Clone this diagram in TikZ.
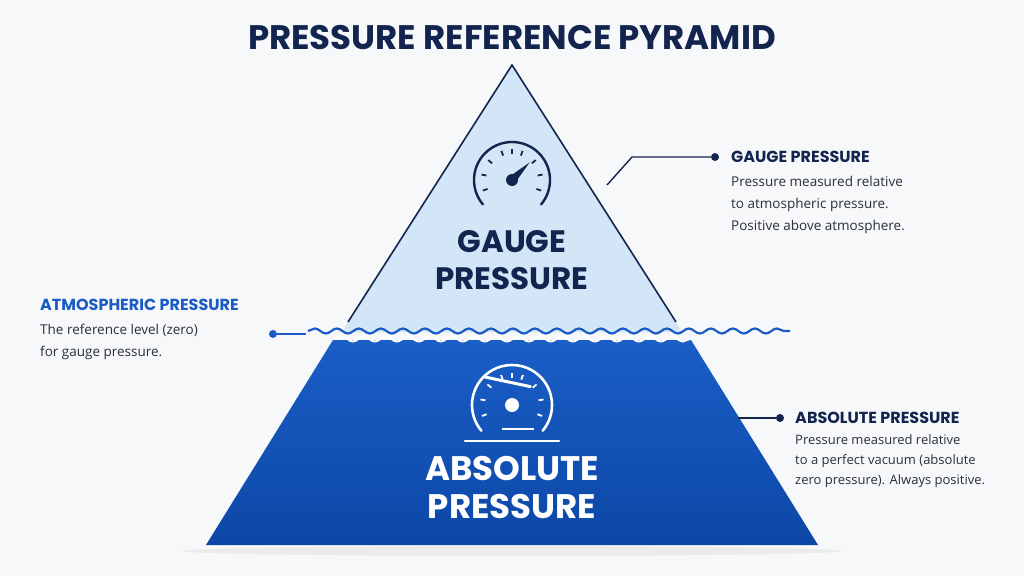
\documentclass[tikz,border=0pt]{standalone}
\usepackage{fontspec}
\setmainfont{Poppins}
\newfontfamily\bodyfont{Open Sans}
\usetikzlibrary{decorations.pathmorphing}
\definecolor{navy}{HTML}{13254F}
\definecolor{bgc}{HTML}{F7F8FA}
\definecolor{lightb}{HTML}{D3E6F8}
\definecolor{deepb}{HTML}{1A5EC6}
\definecolor{deepb2}{HTML}{0C47A6}
\definecolor{atmb}{HTML}{1A5BC4}
\definecolor{bodyc}{HTML}{2A2F3A}
\tikzset{
 head/.style={font=\bfseries\fontsize{16}{18}\selectfont, text=navy, anchor=west, inner sep=0},
 body/.style={font=\bodyfont\fontsize{13.5}{22}\selectfont, text=bodyc, anchor=north west, align=left, inner sep=0},
 lead/.style={draw=navy, line width=1.4pt},
 dotn/.style={circle, fill=navy, inner sep=0, minimum size=8pt},
 wavy/.style={decorate, decoration={snake, amplitude=2.5pt, segment length=22pt}},
 big/.style={font=\bfseries\fontsize{31}{37}\selectfont, align=center, inner sep=0},
}
\begin{document}
\begin{tikzpicture}[x=1pt,y=-1pt]
\fill[bgc] (0,0) rectangle (1024,576);
\useasboundingbox (0,0) rectangle (1024,576);
\fill[black!8] (512,551) ellipse (330 and 5);
\node[font=\bfseries\fontsize{34}{36}\selectfont, text=navy] (title) at (512,38) {PRESSURE REFERENCE PYRAMID};
% top triangle
\fill[lightb] (512,65) -- (342,332) -- (682,332) -- cycle;
\draw[navy, line width=1.6pt] (348,322) -- (512,65) -- (676,322);
% bottom trapezoid
\shade[top color=deepb, bottom color=deepb2] (333,340) -- (691,340) -- (818,545) -- (206,545) -- cycle;
% wave
\draw[atmb, line width=2.2pt, wavy] (308,331) -- (790,331);
\draw[white, line width=2pt, wavy] (335,339) -- (690,339);
% top gauge icon
\begin{scope}[shift={(512,180)}]
\draw[navy, line width=2.4pt, line cap=round] (140:38) arc[start angle=140, end angle=400, radius=38];
\foreach \a in {160,190,220,250,270,290,320,350,20}
  \draw[navy, line width=1.8pt] (\a:26) -- (\a:31);
\fill[navy] (0,0) circle (6);
\fill[navy] (-3,-3) -- (3,3) -- (315:25) -- cycle;
\end{scope}
% bottom gauge icon
\begin{scope}[shift={(512,405)}]
\draw[white, line width=2.6pt, line cap=round] (140:40) arc[start angle=140, end angle=400, radius=40];
\foreach \a in {160,190,220,250,270,290,320,350,20}
  \draw[white, line width=1.8pt] (\a:27) -- (\a:32);
\fill[white] (0,0) circle (7);
\draw[white, line width=3pt, line cap=round] (315:26) -- (225:40);
\draw[white, line width=2.2pt] (-10,24) -- (22,24);
\draw[white, line width=2.6pt, line cap=round] (-47,36) -- (47,36);
\end{scope}
% pyramid labels
\node[big, text=navy] (gp) at (512,260) {GAUGE\\PRESSURE};
\node[big, text=white, font=\bfseries\fontsize{34}{38}\selectfont] (ap) at (512,488) {ABSOLUTE\\PRESSURE};
% gauge callout
\node[head] (gh) at (731,157) {GAUGE PRESSURE};
\node[body] (gb) at (731,176) {Pressure measured relative\\to atmospheric pressure.\\Positive above atmosphere.};
\node[dotn] (gd) at (715,157) {};
\coordinate (gk) at (632,157);
\coordinate (ge) at (607,185);
\draw[lead] (gd) -- (gk) -- (ge);
% atmospheric callout
\node[head, text=atmb] (ah) at (40,305) {ATMOSPHERIC PRESSURE};
\node[body] (ab) at (40,324) {The reference level (zero)\\for gauge pressure.};
\node[circle, fill=atmb, inner sep=0, minimum size=8pt] (adot) at (273,334) {};
\coordinate (ae) at (306,334);
\draw[atmb, line width=1.4pt] (adot) -- (ae);
% absolute callout
\node[head] (bh) at (795,418) {ABSOLUTE PRESSURE};
\node[body, font=\bodyfont\fontsize{13}{20}\selectfont] (bb) at (795,434) {Pressure measured relative\\to a perfect vacuum (absolute\\zero pressure). Always positive.};
\node[dotn] (bd) at (780,418) {};
\coordinate (be) at (738,418);
\draw[lead] (bd) -- (be);
\end{tikzpicture}
\end{document}
